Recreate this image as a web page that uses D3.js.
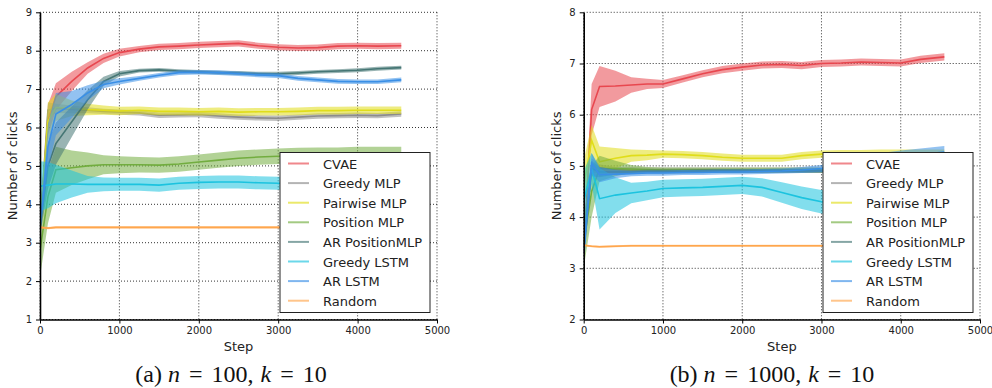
<!DOCTYPE html>
<head>
<meta charset="utf-8">
<title>Number of clicks</title>
<script src="https://d3js.org/d3.v7.min.js"></script>
<style>
  body { margin: 0; background: #fff; }
  text { font-family: "DejaVu Sans", sans-serif; fill: #222; }
  text.cap { font-family: "Liberation Serif", "DejaVu Serif", serif; fill: #111; }
</style>
</head>
<body>
<div id="chart"></div>
<script>

// training steps shared by every curve
const steps = [0, 100, 200, 400, 600, 800, 1000, 1250, 1500, 1750, 2000, 2250, 2500, 2750, 3000, 3250, 3500, 3750, 4000, 4250, 4550];

const names = ["CVAE", "Greedy MLP", "Pairwise MLP", "Position MLP", "AR PositionMLP", "Greedy LSTM", "AR LSTM", "Random"];
const colors = ["#e8474f", "#8c8c8c", "#e0dd1a", "#72ad3f", "#457674", "#1cc3df", "#3a8fe6", "#ffa64d"];

const xTicks = [0, 1000, 2000, 3000, 4000, 5000];
const yTicksA = [1, 2, 3, 4, 5, 6, 7, 8, 9];
const yTicksB = [2, 3, 4, 5, 6, 7, 8];

// (a) n = 100 : mean and spread
const cvaeA = [3.4, 6.2, 6.8, 7.2, 7.55, 7.8, 7.95, 8.04, 8.1, 8.12, 8.15, 8.17, 8.19, 8.13, 8.09, 8.07, 8.08, 8.12, 8.13, 8.12, 8.13];
const cvaeA_sd = [0.1, 0.4, 0.35, 0.25, 0.15, 0.12, 0.1, 0.08, 0.08, 0.08, 0.08, 0.08, 0.08, 0.08, 0.08, 0.08, 0.08, 0.08, 0.08, 0.08, 0.08];
const greedyMlpA = [3.4, 6.45, 6.5, 6.47, 6.45, 6.42, 6.4, 6.38, 6.32, 6.33, 6.34, 6.3, 6.27, 6.25, 6.24, 6.27, 6.3, 6.31, 6.32, 6.31, 6.35];
const greedyMlpA_sd = [0.1, 0.2, 0.12, 0.1, 0.08, 0.07, 0.07, 0.07, 0.07, 0.07, 0.07, 0.07, 0.07, 0.07, 0.07, 0.07, 0.07, 0.07, 0.07, 0.07, 0.07];
const pairwiseA = [3.4, 6.15, 6.52, 6.5, 6.47, 6.45, 6.43, 6.45, 6.42, 6.42, 6.41, 6.42, 6.4, 6.41, 6.41, 6.42, 6.44, 6.44, 6.45, 6.45, 6.45];
const pairwiseA_sd = [0.3, 0.5, 0.35, 0.2, 0.15, 0.12, 0.11, 0.1, 0.1, 0.1, 0.1, 0.1, 0.1, 0.1, 0.1, 0.1, 0.1, 0.1, 0.1, 0.1, 0.1];
const positionA = [2.8, 4.2, 4.9, 4.95, 5.0, 5.03, 5.03, 5.03, 5.02, 5.05, 5.1, 5.15, 5.2, 5.23, 5.25, 5.27, 5.28, 5.28, 5.3, 5.3, 5.3];
const positionA_sd = [0.7, 0.7, 0.6, 0.45, 0.35, 0.25, 0.22, 0.2, 0.2, 0.2, 0.2, 0.2, 0.2, 0.2, 0.2, 0.2, 0.2, 0.2, 0.2, 0.2, 0.2];
const arPosA = [3.4, 5.0, 5.58, 6.15, 6.72, 7.2, 7.4, 7.48, 7.5, 7.47, 7.45, 7.43, 7.42, 7.4, 7.4, 7.42, 7.45, 7.47, 7.49, 7.53, 7.56];
const arPosA_sd = [0.2, 0.6, 0.55, 0.4, 0.25, 0.12, 0.07, 0.05, 0.05, 0.05, 0.05, 0.05, 0.05, 0.05, 0.05, 0.05, 0.05, 0.05, 0.05, 0.05, 0.05];
const greedyLstmA = [4.47, 4.5, 4.53, 4.53, 4.52, 4.52, 4.52, 4.52, 4.5, 4.55, 4.57, 4.58, 4.58, 4.56, 4.55, 4.54, 4.55, 4.55, 4.55, 4.55, 4.55];
const greedyLstmA_sd = [0.65, 0.6, 0.5, 0.35, 0.22, 0.18, 0.17, 0.17, 0.17, 0.17, 0.17, 0.17, 0.17, 0.17, 0.17, 0.17, 0.17, 0.17, 0.17, 0.17, 0.17];
const arLstmA = [3.4, 5.5, 6.35, 6.6, 6.9, 7.12, 7.2, 7.28, 7.36, 7.43, 7.44, 7.43, 7.4, 7.37, 7.35, 7.28, 7.24, 7.2, 7.19, 7.19, 7.24];
const arLstmA_sd = [0.2, 0.6, 0.55, 0.35, 0.2, 0.1, 0.08, 0.06, 0.06, 0.06, 0.06, 0.06, 0.06, 0.06, 0.06, 0.06, 0.06, 0.06, 0.06, 0.06, 0.06];
const randomA = [3.4, 3.38, 3.4, 3.4, 3.4, 3.4, 3.4, 3.4, 3.4, 3.4, 3.4, 3.4, 3.4, 3.4, 3.4, 3.4, 3.4, 3.4, 3.4, 3.4, 3.4];
const randomA_sd = [0.03, 0.03, 0.03, 0.03, 0.03, 0.03, 0.03, 0.03, 0.03, 0.03, 0.03, 0.03, 0.03, 0.03, 0.03, 0.03, 0.03, 0.03, 0.03, 0.03, 0.03];

// (b) n = 1000 : mean and spread
const cvaeB = [3.3, 6.1, 6.55, 6.56, 6.58, 6.6, 6.6, 6.7, 6.8, 6.88, 6.93, 6.97, 6.98, 6.96, 7.0, 7.01, 7.03, 7.02, 7.01, 7.08, 7.13];
const cvaeB_sd = [0.2, 0.5, 0.4, 0.3, 0.15, 0.1, 0.08, 0.07, 0.07, 0.07, 0.07, 0.07, 0.07, 0.07, 0.07, 0.07, 0.07, 0.07, 0.07, 0.07, 0.07];
const greedyMlpB = [3.4, 5.0, 4.95, 4.93, 4.93, 4.92, 4.92, 4.92, 4.92, 4.92, 4.92, 4.92, 4.92, 4.92, 4.92, 4.92, 4.92, 4.92, 4.92, 4.92, 4.93];
const greedyMlpB_sd = [0.2, 0.15, 0.08, 0.05, 0.05, 0.05, 0.05, 0.05, 0.05, 0.05, 0.05, 0.05, 0.05, 0.05, 0.05, 0.05, 0.05, 0.05, 0.05, 0.05, 0.05];
const pairwiseB = [4.6, 5.5, 5.08, 5.15, 5.2, 5.21, 5.23, 5.22, 5.2, 5.17, 5.15, 5.15, 5.15, 5.2, 5.23, 5.24, 5.24, 5.25, 5.25, 5.25, 5.25];
const pairwiseB_sd = [0.5, 0.3, 0.3, 0.2, 0.12, 0.1, 0.07, 0.07, 0.07, 0.07, 0.07, 0.07, 0.07, 0.07, 0.07, 0.07, 0.07, 0.07, 0.07, 0.07, 0.07];
const positionB = [3.5, 4.5, 4.95, 4.95, 4.94, 4.93, 4.92, 4.92, 4.92, 4.92, 4.92, 4.92, 4.92, 4.92, 4.92, 4.92, 4.92, 4.92, 4.92, 4.92, 4.92];
const positionB_sd = [0.5, 0.5, 0.25, 0.15, 0.08, 0.05, 0.05, 0.05, 0.05, 0.05, 0.05, 0.05, 0.05, 0.05, 0.05, 0.05, 0.05, 0.05, 0.05, 0.05, 0.05];
const arPosB = [3.4, 4.95, 4.88, 4.88, 4.88, 4.89, 4.89, 4.89, 4.9, 4.9, 4.9, 4.9, 4.9, 4.9, 4.9, 4.91, 4.91, 4.92, 4.92, 4.92, 4.93];
const arPosB_sd = [0.3, 0.15, 0.1, 0.05, 0.04, 0.04, 0.04, 0.04, 0.04, 0.04, 0.04, 0.04, 0.04, 0.04, 0.04, 0.04, 0.04, 0.04, 0.04, 0.04, 0.04];
const greedyLstmB = [4.3, 4.95, 4.36, 4.43, 4.47, 4.51, 4.56, 4.57, 4.58, 4.6, 4.62, 4.58, 4.48, 4.38, 4.3, 4.27, 4.26, 4.25, 4.25, 4.25, 4.25];
const greedyLstmB_sd = [0.6, 0.3, 0.6, 0.35, 0.2, 0.18, 0.17, 0.17, 0.17, 0.17, 0.17, 0.18, 0.2, 0.22, 0.23, 0.25, 0.25, 0.25, 0.25, 0.25, 0.25];
const arLstmB = [3.3, 5.05, 4.83, 4.84, 4.85, 4.86, 4.86, 4.87, 4.87, 4.88, 4.88, 4.89, 4.9, 4.92, 4.95, 5.03, 5.1, 5.14, 5.18, 5.22, 5.27];
const arLstmB_sd = [0.3, 0.2, 0.15, 0.08, 0.05, 0.05, 0.05, 0.05, 0.05, 0.05, 0.05, 0.05, 0.05, 0.06, 0.07, 0.08, 0.1, 0.11, 0.12, 0.12, 0.12];
const randomB = [3.45, 3.43, 3.42, 3.43, 3.44, 3.44, 3.44, 3.44, 3.44, 3.44, 3.44, 3.44, 3.44, 3.44, 3.44, 3.44, 3.44, 3.44, 3.44, 3.44, 3.44];
const randomB_sd = [0.02, 0.02, 0.02, 0.02, 0.02, 0.02, 0.02, 0.02, 0.02, 0.02, 0.02, 0.02, 0.02, 0.02, 0.02, 0.02, 0.02, 0.02, 0.02, 0.02, 0.02];

const meansA = [cvaeA, greedyMlpA, pairwiseA, positionA, arPosA, greedyLstmA, arLstmA, randomA];
const spreadA = [cvaeA_sd, greedyMlpA_sd, pairwiseA_sd, positionA_sd, arPosA_sd, greedyLstmA_sd, arLstmA_sd, randomA_sd];
const meansB = [cvaeB, greedyMlpB, pairwiseB, positionB, arPosB, greedyLstmB, arLstmB, randomB];
const spreadB = [cvaeB_sd, greedyMlpB_sd, pairwiseB_sd, positionB_sd, arPosB_sd, greedyLstmB_sd, arLstmB_sd, randomB_sd];

var svg = d3.select("#chart")
  .append("svg")
    .attr("width", 992)
    .attr("height", 388);

function panel(id, left, right, top, bottom, yTicks, means, spread, caption) {
  var x = d3.scaleLinear().domain([0, 5000]).range([left, right]);
  var y = d3.scaleLinear().domain([yTicks[0], yTicks[yTicks.length - 1]]).range([bottom, top]);
  var g = svg.append("g");

  g.append("clipPath").attr("id", "clip" + id)
    .append("rect")
      .attr("x", left).attr("y", top)
      .attr("width", right - left).attr("height", bottom - top);

  // dotted grid
  g.selectAll("gx").data(xTicks).enter().append("line")
    .attr("x1", d => x(d)).attr("x2", d => x(d))
    .attr("y1", top).attr("y2", bottom)
    .attr("stroke", "#333").attr("stroke-width", 1).attr("stroke-dasharray", "1,2");
  g.selectAll("gy").data(yTicks).enter().append("line")
    .attr("x1", left).attr("x2", right)
    .attr("y1", d => y(d)).attr("y2", d => y(d))
    .attr("stroke", "#333").attr("stroke-width", 1).attr("stroke-dasharray", "1,2");

  var plot = g.append("g").attr("clip-path", "url(#clip" + id + ")");

  var area = d3.area()
    .x(d => x(d.s))
    .y0(d => y(d.m - d.e))
    .y1(d => y(d.m + d.e));
  var line = d3.line()
    .x(d => x(d.s))
    .y(d => y(d.m));

  means.forEach(function(m, i) {
    var pts = steps.map((s, j) => ({ s: s, m: m[j], e: spread[i][j] }));
    plot.append("path")
      .datum(pts)
      .attr("d", area)
      .attr("fill", colors[i])
      .attr("fill-opacity", 0.55);
    plot.append("path")
      .datum(pts)
      .attr("d", line)
      .attr("fill", "none")
      .attr("stroke", colors[i])
      .attr("stroke-width", 1.6);
  });

  // axes, left and bottom spines only
  var ax = g.append("g")
    .attr("transform", "translate(0," + bottom + ")")
    .call(d3.axisBottom(x).tickValues(xTicks).tickFormat(d3.format("d")).tickSizeInner(4).tickSizeOuter(0).tickPadding(3));
  var ay = g.append("g")
    .attr("transform", "translate(" + left + ",0)")
    .call(d3.axisLeft(y).tickValues(yTicks).tickFormat(d3.format("d")).tickSizeInner(4).tickSizeOuter(0).tickPadding(4));
  [ax, ay].forEach(function(a) {
    a.select(".domain").attr("stroke", "#000").attr("stroke-width", 1.6);
    a.selectAll(".tick line").attr("stroke", "#000");
    a.selectAll(".tick text").style("font-family", "DejaVu Sans").style("font-size", "10px").attr("fill", "#222");
  });

  g.append("text")
    .attr("x", (left + right) / 2).attr("y", 351)
    .attr("text-anchor", "middle")
    .style("font-size", "13px")
    .text("Step");

  g.append("text")
    .attr("transform", "translate(" + (left - 23) + "," + ((top + bottom) / 2) + ")rotate(-90)")
    .attr("text-anchor", "middle")
    .style("font-size", "13px")
    .text("Number of clicks");

  // legend
  var lw = 150, lh = 160;
  var lx = right - 7 - lw, ly = bottom - 7 - lh;
  var leg = g.append("g").attr("transform", "translate(" + lx + "," + ly + ")");
  leg.append("rect")
    .attr("width", lw).attr("height", lh)
    .attr("fill", "#fff").attr("stroke", "#222").attr("stroke-width", 1);
  names.forEach(function(n, i) {
    var yy = 11 + i * 19.6;
    leg.append("line")
      .attr("x1", 8).attr("x2", 29)
      .attr("y1", yy).attr("y2", yy)
      .attr("stroke", colors[i]).attr("stroke-opacity", 0.65).attr("stroke-width", 2);
    leg.append("text")
      .attr("x", 43).attr("y", yy + 5)
      .style("font-size", "13px")
      .attr("fill", "#111")
      .text(n);
  });

  // caption under the panel
  var cap = svg.append("text")
    .attr("class", "cap")
    .attr("x", caption.cx).attr("y", 382)
    .attr("text-anchor", "middle")
    .style("font-size", "24px");
  cap.append("tspan").text(caption.tag + " ");
  cap.append("tspan").style("font-style", "italic").text("n");
  cap.append("tspan").attr("dx", 9).text("=");
  cap.append("tspan").attr("dx", 9).text(caption.n + ",");
  cap.append("tspan").attr("dx", 7).style("font-style", "italic").text("k");
  cap.append("tspan").attr("dx", 9).text("=");
  cap.append("tspan").attr("dx", 9).text("10");
}

panel("a", 40, 437, 12.3, 319.5, yTicksA, meansA, spreadA, { cx: 231, tag: "(a)", n: "100" });
panel("b", 583.7, 980, 12.3, 319.5, yTicksB, meansB, spreadB, { cx: 772, tag: "(b)", n: "1000" });

</script>
</body>
